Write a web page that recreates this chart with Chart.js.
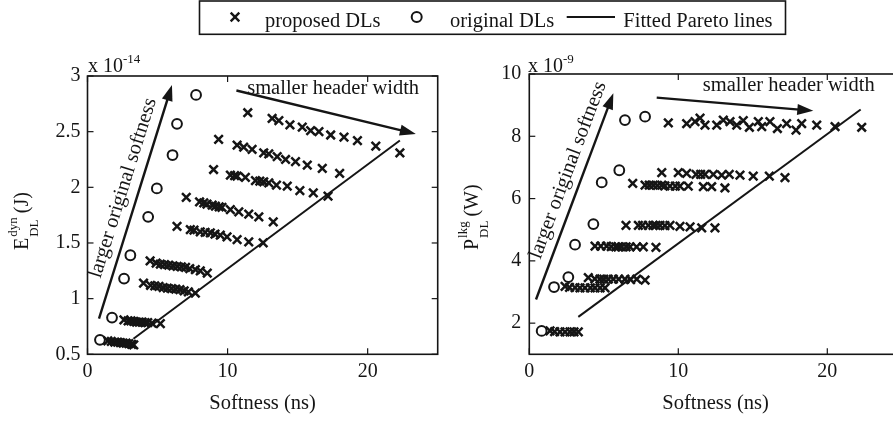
<!DOCTYPE html>
<html>
<head>
<meta charset="utf-8">
<script src="https://cdn.jsdelivr.net/npm/chart.js@4.4.0/dist/chart.umd.min.js"></script>
<style>
  html, body { margin: 0; padding: 0; background: #fff; overflow: hidden; width: 893px; height: 422px; }
  canvas { position: absolute; top: 0; }
</style>
</head>
<body>
<canvas id="legend" width="893" height="40" style="left:0"></canvas>
<canvas id="leftChart" width="450" height="422" style="left:0"></canvas>
<canvas id="rightChart" width="470" height="422" style="left:450px"></canvas>
<script>
const ink = "#151515";
const serif = "'Liberation Serif', 'Times New Roman', serif";

// ---- left plot: dynamic energy (x 1e-14 J) ----
const leftOrigX = [0.89, 1.75, 2.61, 3.06, 4.33, 4.95, 6.07, 6.39, 7.75];
const leftOrigY = [0.63, 0.83, 1.18, 1.39, 1.735, 1.99, 2.29, 2.57, 2.83];

const leftPropX = [
  1.45, 1.7, 1.95, 2.15, 2.35, 2.55, 2.75, 2.95, 3.15, 3.3,
  2.6, 2.9, 3.1, 3.3, 3.5, 3.7, 3.9, 4.1, 4.3, 4.6, 5.2,
  4.0, 4.5, 4.8, 5.1, 5.4, 5.7, 6.0, 6.3, 6.6, 6.9, 7.2, 7.7,
  4.47, 4.9, 5.2, 5.5, 5.8, 6.1, 6.4, 6.7, 7.0, 7.3, 7.7, 8.05, 8.55,
  6.39, 7.34, 7.6, 8.05, 8.4, 8.77, 9.1, 9.48, 9.96, 10.68, 11.51, 12.54,
  7.05, 8.0, 8.3, 8.53, 8.9, 9.13, 9.4, 9.6, 10.2, 10.8, 11.51, 12.23, 13.26,
  9.0, 10.2, 10.5, 10.68, 11.27, 11.99, 12.3, 12.58, 12.94, 13.49, 14.26, 15.16, 16.12, 17.17,
  9.36, 10.68, 11.15, 11.75, 12.58, 12.94, 13.54, 14.14, 14.85, 15.69, 16.76, 18.0,
  11.44, 13.18, 13.66, 14.45, 15.33, 15.93, 16.52, 17.36, 18.31, 19.27, 20.58, 22.3
];
const leftPropY = [
  0.62, 0.615, 0.61, 0.61, 0.605, 0.6, 0.6, 0.595, 0.59, 0.585,
  0.81, 0.8, 0.8, 0.795, 0.79, 0.79, 0.79, 0.785, 0.785, 0.78, 0.775,
  1.14, 1.12, 1.115, 1.11, 1.1, 1.095, 1.09, 1.085, 1.08, 1.07, 1.06, 1.05,
  1.34, 1.32, 1.31, 1.305, 1.3, 1.295, 1.29, 1.285, 1.28, 1.27, 1.26, 1.25, 1.23,
  1.65, 1.62, 1.615, 1.6, 1.595, 1.59, 1.58, 1.57, 1.555, 1.53, 1.51, 1.5,
  1.91, 1.87, 1.86, 1.85, 1.84, 1.83, 1.825, 1.82, 1.8, 1.78, 1.76, 1.735, 1.69,
  2.16, 2.11, 2.105, 2.1, 2.09, 2.06, 2.055, 2.05, 2.04, 2.02, 2.01, 1.97, 1.95, 1.92,
  2.43, 2.38, 2.36, 2.34, 2.31, 2.3, 2.275, 2.25, 2.23, 2.2, 2.17, 2.125,
  2.67, 2.62, 2.6, 2.56, 2.54, 2.51, 2.5, 2.47, 2.45, 2.42, 2.37, 2.31
];
const leftParetoX = [3.28, 22.3];
const leftParetoY = [0.64, 2.42];

// ---- right plot: leakage power (x 1e-9 W) ----
const rightOrigX = [0.83, 1.66, 2.62, 3.07, 4.3, 4.86, 6.04, 6.42, 7.77];
const rightOrigY = [1.75, 3.16, 3.48, 4.52, 5.18, 6.52, 6.91, 8.52, 8.63];

const rightPropX = [
  1.39, 1.7, 2.06, 2.4, 2.73, 3.0, 3.29,
  2.4, 2.7, 3.07, 3.4, 3.74, 4.1, 4.41, 4.75, 5.08,
  3.96, 4.4, 4.74, 5.0, 5.3, 5.64, 6.0, 6.42, 6.8, 7.21, 7.77,
  4.41, 4.8, 5.19, 5.5, 5.8, 5.97, 6.2, 6.5, 6.76, 7.2, 7.65, 8.5,
  6.49, 7.32, 7.6, 7.99, 8.3, 8.5, 8.77, 9.1, 9.44, 10.11, 10.79, 11.57, 12.46,
  6.94, 7.77, 8.05, 8.32, 8.6, 8.89, 9.1, 9.44, 9.8, 10.11, 10.67, 11.68, 12.24, 13.13,
  8.89, 10.0, 10.56, 11.19, 11.5, 11.79, 12.35, 12.91, 13.42, 14.14, 15.03, 16.11, 17.16,
  9.33, 10.56, 11.12, 11.46, 11.79, 12.58, 13.02, 13.47, 13.92, 14.36, 14.77, 15.37, 15.6,
  16.15, 16.65, 17.27, 17.9, 18.28, 19.29, 20.52, 22.31
];
const rightPropY = [
  1.75, 1.73, 1.72, 1.72, 1.72, 1.72, 1.72,
  3.18, 3.15, 3.14, 3.13, 3.13, 3.13, 3.13, 3.13, 3.13,
  3.46, 3.42, 3.41, 3.41, 3.41, 3.41, 3.41, 3.41, 3.4, 3.41, 3.38,
  4.47, 4.47, 4.47, 4.46, 4.45, 4.45, 4.45, 4.45, 4.45, 4.45, 4.45, 4.43,
  5.14, 5.14, 5.14, 5.14, 5.14, 5.14, 5.14, 5.13, 5.14, 5.11, 5.09, 5.06, 5.06,
  6.49, 6.43, 6.43, 6.43, 6.42, 6.43, 6.41, 6.4, 6.4, 6.4, 6.4, 6.38, 6.38, 6.34,
  6.83, 6.83, 6.81, 6.78, 6.78, 6.78, 6.78, 6.75, 6.78, 6.75, 6.72, 6.72, 6.67,
  8.43, 8.41, 8.47, 8.58, 8.36, 8.36, 8.52, 8.47, 8.36, 8.5, 8.29, 8.47, 8.31,
  8.47, 8.25, 8.41, 8.2, 8.41, 8.36, 8.31, 8.29
];
const rightParetoX = [3.29, 22.24];
const rightParetoY = [2.2, 8.86];

// annotation arrows, in data units: [x0, y0, x1, y1]
const leftUpArrow = [0.82, 0.82, 6.03, 2.92];
const leftSideArrow = [10.63, 2.87, 23.44, 2.48];
const rightUpArrow = [0.45, 2.76, 5.64, 9.38];
const rightSideArrow = [8.55, 9.24, 19.06, 8.82];

function pts(xs, ys) {
  return xs.map((x, i) => ({ x: x, y: ys[i] }));
}

function line(ctx, x0, y0, x1, y1) {
  ctx.beginPath();
  ctx.moveTo(x0, y0);
  ctx.lineTo(x1, y1);
  ctx.stroke();
}

function arrow(ctx, x0, y0, x1, y1) {
  const len = Math.hypot(x1 - x0, y1 - y0);
  const ux = (x1 - x0) / len, uy = (y1 - y0) / len;
  const head = 16, half = 5.5;
  const bx = x1 - ux * head, by = y1 - uy * head;
  ctx.lineWidth = 2.4;
  line(ctx, x0, y0, bx + ux * 2, by + uy * 2);
  ctx.beginPath();
  ctx.moveTo(x1, y1);
  ctx.lineTo(bx - uy * half, by + ux * half);
  ctx.lineTo(bx + uy * half, by - ux * half);
  ctx.closePath();
  ctx.fill();
}

// MATLAB-like box, inward ticks, exponent, y title and annotations
const matlabAxes = {
  id: "matlabAxes",
  afterDraw(chart, args, o) {
    const { ctx, chartArea: a, scales: { x, y } } = chart;
    ctx.save();
    ctx.strokeStyle = ink;
    ctx.fillStyle = ink;
    ctx.lineWidth = 1.6;
    ctx.strokeRect(a.left, a.top, a.right - a.left, a.bottom - a.top);
    ctx.lineWidth = 1.2;
    x.ticks.forEach((t) => {
      const px = x.getPixelForValue(t.value);
      line(ctx, px, a.bottom, px, a.bottom - 6);
      line(ctx, px, a.top, px, a.top + 6);
    });
    y.ticks.forEach((t) => {
      const py = y.getPixelForValue(t.value);
      line(ctx, a.left, py, a.left + 6, py);
      line(ctx, a.right, py, a.right - 6, py);
    });

    // exponent label
    ctx.textBaseline = "alphabetic";
    ctx.textAlign = "left";
    ctx.font = "20px " + serif;
    ctx.fillText("x 10", a.left + o.expDx, o.expY);
    const w10 = ctx.measureText("x 10").width;
    ctx.font = "13px " + serif;
    ctx.fillText(o.expPow, a.left + o.expDx + w10, o.expY - 8.5);

    // rotated y title with super/subscript
    ctx.save();
    ctx.translate(o.titleX, o.titleY);
    ctx.rotate(-Math.PI / 2);
    ctx.font = "20px " + serif;
    ctx.fillText(o.titleMain, 0, 0);
    const wm = ctx.measureText(o.titleMain).width + 1;
    ctx.font = "13px " + serif;
    ctx.fillText(o.titleSup, wm, -11);
    ctx.fillText("DL", wm, 10);
    const ws = Math.max(ctx.measureText(o.titleSup).width, ctx.measureText("DL").width);
    ctx.font = "20px " + serif;
    ctx.fillText(o.titleUnit, wm + ws + 4, 0);
    ctx.restore();

    // annotation arrows
    const up = o.upArrow.map((v, i) => (i % 2 ? y : x).getPixelForValue(v));
    const side = o.sideArrow.map((v, i) => (i % 2 ? y : x).getPixelForValue(v));
    arrow(ctx, up[0], up[1], up[2], up[3]);
    arrow(ctx, side[0], side[1], side[2], side[3]);

    ctx.font = "20.5px " + serif;
    ctx.fillText("smaller header width", x.getPixelForValue(o.sideText[0]), y.getPixelForValue(o.sideText[1]));

    ctx.save();
    ctx.translate(x.getPixelForValue(o.upText[0]), y.getPixelForValue(o.upText[1]));
    ctx.rotate(Math.atan2(up[3] - up[1], up[2] - up[0]));
    ctx.textAlign = "center";
    ctx.textBaseline = "middle";
    ctx.fillText("larger original softness", 0, 0);
    ctx.restore();

    ctx.restore();
  }
};

function makeChart(id, cfg) {
  return new Chart(document.getElementById(id), {
    type: "scatter",
    data: {
      datasets: [
        {
          data: pts(cfg.origX, cfg.origY),
          pointStyle: "circle",
          pointRadius: 4.9,
          borderWidth: 2,
          borderColor: ink,
          backgroundColor: "rgba(0,0,0,0)"
        },
        {
          data: pts(cfg.propX, cfg.propY),
          pointStyle: "crossRot",
          pointRadius: 6,
          borderWidth: 2.5,
          borderColor: ink
        },
        {
          type: "line",
          data: pts(cfg.paretoX, cfg.paretoY),
          borderColor: ink,
          borderWidth: 2,
          pointRadius: 0,
          fill: false
        }
      ]
    },
    options: {
      responsive: false,
      animation: false,
      events: [],
      layout: { padding: { left: 0, top: cfg.top, right: cfg.padRight, bottom: 0 } },
      plugins: {
        legend: { display: false },
        tooltip: { enabled: false },
        matlabAxes: cfg.axes
      },
      scales: {
        x: {
          type: "linear",
          min: 0,
          max: 25,
          ticks: { stepSize: 10, padding: 5, color: ink, font: { family: serif, size: 20 }, maxRotation: 0 },
          grid: { display: false, drawTicks: false },
          border: { display: false },
          title: { display: true, text: "Softness (ns)", color: ink, font: { family: serif, size: 20.5 }, padding: { top: 0, bottom: 6.5 } },
          afterBuildTicks: (s) => { s.ticks = s.ticks.filter((t) => t.value % 10 === 0); },
          afterFit: (s) => { s.height = 422 - 354.3; }
        },
        y: {
          type: "linear",
          min: cfg.yMin,
          max: cfg.yMax,
          ticks: {
            stepSize: cfg.yStep,
            padding: cfg.yPad,
            color: ink,
            font: { family: serif, size: 20 },
            callback: (v) => String(Math.round(v * 100) / 100)
          },
          grid: { display: false, drawTicks: false },
          border: { display: false },
          afterBuildTicks: (s) => {
            s.ticks = s.ticks.filter((t) => Math.abs(t.value / cfg.yStep - Math.round(t.value / cfg.yStep)) < 1e-6);
          },
          afterFit: (s) => { s.width = cfg.plotLeft; }
        }
      }
    },
    plugins: [matlabAxes]
  });
}

makeChart("leftChart", {
  origX: leftOrigX, origY: leftOrigY,
  propX: leftPropX, propY: leftPropY,
  paretoX: leftParetoX, paretoY: leftParetoY,
  top: 76, padRight: 450 - 437.7, plotLeft: 87.5,
  yMin: 0.5, yMax: 3, yStep: 0.5, yPad: 7,
  axes: {
    expDx: 0.5, expY: 71.5, expPow: "-14",
    titleX: 27.5, titleY: 250, titleMain: "E", titleSup: "dyn", titleUnit: "(J)",
    upArrow: leftUpArrow, sideArrow: leftSideArrow,
    upText: [2.54, 1.994], sideText: [11.4, 2.836]
  }
});

makeChart("rightChart", {
  origX: rightOrigX, origY: rightOrigY,
  propX: rightPropX, propY: rightPropY,
  paretoX: rightParetoX, paretoY: rightParetoY,
  top: 74, padRight: 470 - 451.8, plotLeft: 79.3,
  yMin: 1, yMax: 10, yStep: 2, yPad: 8,
  axes: {
    expDx: -1.3, expY: 71.5, expPow: "-9",
    titleX: 28, titleY: 250, titleMain: "P", titleSup: "lkg", titleUnit: "(W)",
    upArrow: rightUpArrow, sideArrow: rightSideArrow,
    upText: [2.6, 6.91], sideText: [11.64, 9.44]
  }
});

// shared legend across the two plots
(function drawLegend() {
  const ctx = document.getElementById("legend").getContext("2d");
  ctx.strokeStyle = ink;
  ctx.fillStyle = ink;
  ctx.lineWidth = 1.6;
  ctx.strokeRect(199.5, 1, 586, 33.3);
  ctx.font = "20.5px " + serif;
  ctx.textBaseline = "alphabetic";
  const base = 26.5, mid = 17;
  ctx.lineWidth = 2.4;
  line(ctx, 235 - 4.3, mid - 4.3, 235 + 4.3, mid + 4.3);
  line(ctx, 235 - 4.3, mid + 4.3, 235 + 4.3, mid - 4.3);
  ctx.fillText("proposed DLs", 265, base);
  ctx.lineWidth = 2;
  ctx.beginPath();
  ctx.arc(416.7, mid, 5, 0, Math.PI * 2);
  ctx.stroke();
  ctx.fillText("original DLs", 450, base);
  line(ctx, 566.7, mid, 615, mid);
  ctx.fillText("Fitted Pareto lines", 623.3, base);
})();
</script>
</body>
</html>
